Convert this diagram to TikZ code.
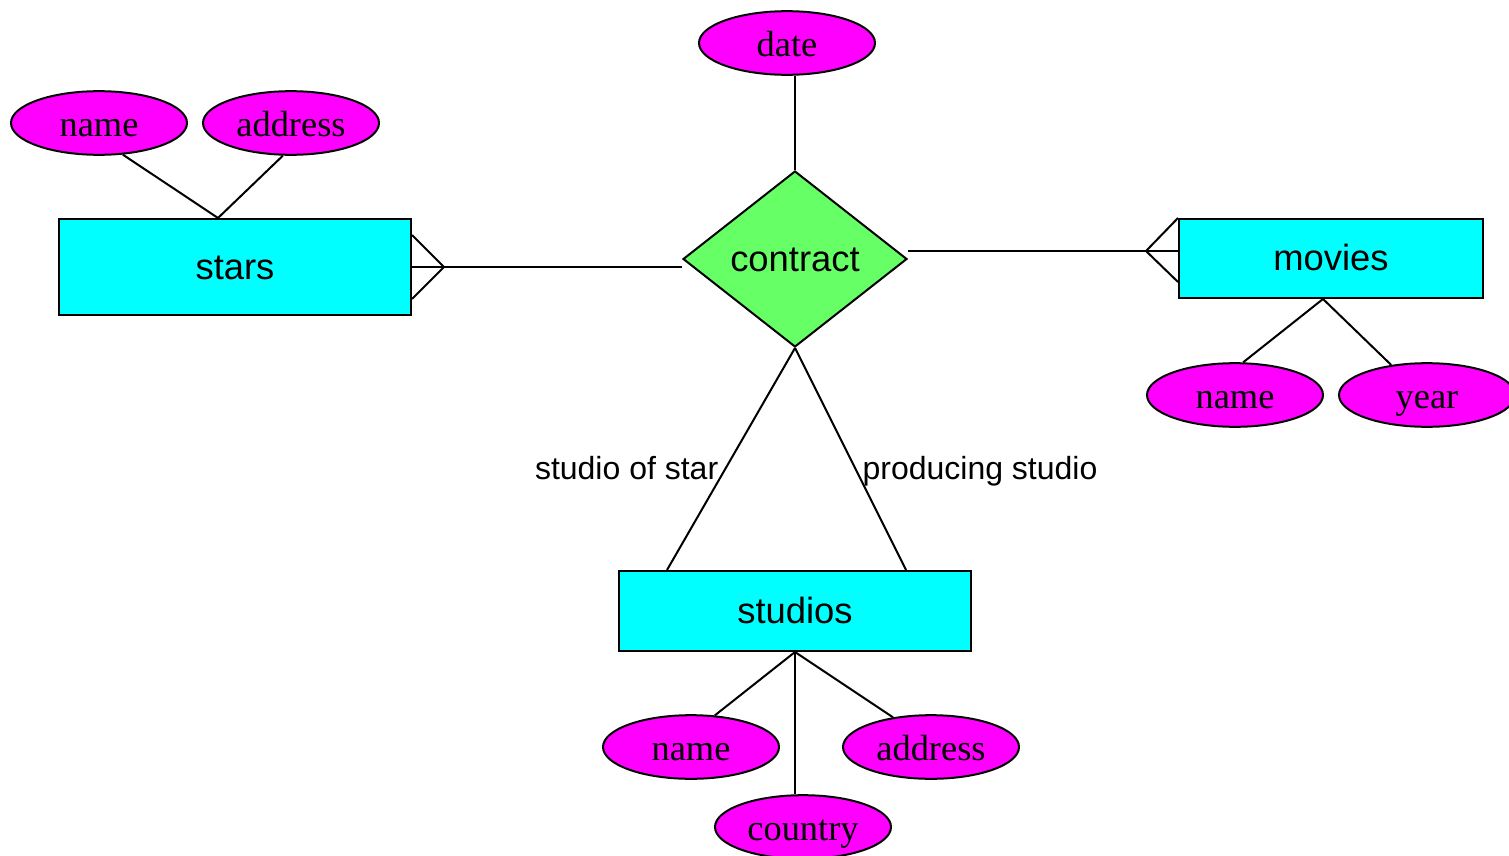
\documentclass[tikz,border=0pt]{standalone}
\usepackage{fontspec}
\setmainfont{Liberation Serif}
\setsansfont{Liberation Sans}
\usetikzlibrary{shapes.geometric}
\definecolor{attrfill}{RGB}{255,0,255}
\definecolor{entfill}{RGB}{0,255,255}
\definecolor{relfill}{RGB}{102,255,102}
\tikzset{
  attr/.style={ellipse, draw, line width=1pt, fill=attrfill, inner sep=0pt,
    minimum width=88pt, minimum height=31.5pt, text height=18pt, text depth=4.5pt,
    font=\rmfamily\fontsize{18.2}{20}\selectfont},
  entity/.style={rectangle, draw, line width=1pt, fill=entfill, inner sep=0pt,
    minimum width=176pt, text height=16pt, text depth=4pt,
    font=\sffamily\fontsize{18.2}{20}\selectfont},
  rel/.style={diamond, draw, line width=1pt, fill=relfill, inner sep=0pt,
    minimum width=112pt, minimum height=88pt, text height=16pt, text depth=4pt,
    font=\sffamily\fontsize{18.2}{20}\selectfont},
  lbl/.style={text height=17pt, text depth=5pt, font=\sffamily\fontsize{16}{18}\selectfont}
}
\begin{document}
\begin{tikzpicture}[x=0.5pt, y=-0.5pt, line width=1pt]
  \useasboundingbox (0,0) rectangle (1509,856);
  % Entidades y relacion
  \node[entity, minimum height=48pt] (stars) at (235,267) {stars};
  \node[rel] (contract) at (795,259) {contract};
  \node[entity, minimum width=152pt, minimum height=39.5pt] (movies) at (1331,258.5) {movies};
  \node[entity, minimum height=40pt] (studios) at (795,611) {studios};
  % Atributos
  \node[attr] (date) at (787,43) {date};
  \node[attr] (sname) at (99,123) {name};
  \node[attr] (saddr) at (291,123) {address};
  \node[attr] (mname) at (1235,395) {name};
  \node[attr] (myear) at (1427,395) {year};
  \node[attr] (stname) at (691,747) {name};
  \node[attr] (staddr) at (931,747) {address};
  \node[attr] (stcountry) at (803,827) {country};
  % Lineas de atributos
  \draw (contract.north |- date.south) -- (contract.north);
  \coordinate (starstop) at ([xshift=-8.5pt]stars.north);
  \draw (sname.-53) -- (starstop);
  \draw (saddr.-104) -- (starstop);
  \coordinate (moviesbot) at ([xshift=-4pt]movies.south);
  \draw (moviesbot) -- (mname.76);
  \draw (moviesbot) -- (myear.140);
  \draw (studios.south) -- (stname.53);
  \draw (studios.south) -- (staddr.142);
  \draw (studios.south) -- (studios.south |- stcountry.north);
  % Stars -- contract (muchos)
  \coordinate (sfoot) at ([xshift=16pt]stars.east);
  \draw (stars.east) -- (stars.east -| contract.west);
  \draw ([yshift=16pt]stars.east) -- (sfoot) -- ([yshift=-16pt]stars.east);
  % Contract -- movies (muchos)
  \coordinate (cright) at ([yshift=4pt]contract.east);
  \coordinate (mfoot) at ([xshift=-16pt]cright -| movies.west);
  \draw (cright) -- (cright -| movies.west);
  \draw (movies.north west) -- (mfoot) -- ([yshift=-32pt]movies.north west);
  % Contract -- studios
  \draw (contract.south) -- ([xshift=-64pt]studios.north)
    node[lbl, pos=0.54, left] {studio of star};
  \draw (contract.south) -- ([xshift=55.5pt]studios.north)
    node[lbl, pos=0.54, right] {producing studio};
\end{tikzpicture}
\end{document}
